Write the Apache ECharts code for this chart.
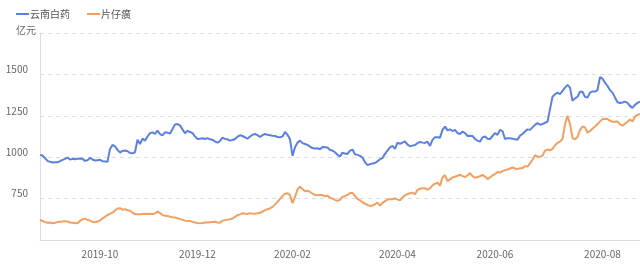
<!DOCTYPE html>
<html><head><meta charset="utf-8">
<script src="https://cdn.jsdelivr.net/npm/echarts@6/dist/echarts.min.js"></script>
<style>html,body{margin:0;padding:0;background:#fff}#c{width:640px;height:272px}</style>
</head><body><div id="c"></div>
<script>
// Series names
const seriesNames = ['云南白药', '片仔癀'];
const yAxisName = '亿元';

// Trading-day calendar (categories)
const startDate = '2019-08-27';
const pointCount = 241;
const holidays = ['2019-09-13','2019-10-01','2019-10-02','2019-10-03','2019-10-04','2019-10-07',
  '2020-01-01','2020-01-24','2020-01-27','2020-01-28','2020-01-29','2020-01-30','2020-01-31',
  '2020-04-06','2020-05-01','2020-05-04','2020-05-05','2020-06-25','2020-06-26'];

// Market value, 亿元
const yunnanBaiyao = [
  1014,1010,995,978,972,968,970,969,976,984,
  990,998,986,990,988,990,992,990,978,982,
  996,986,980,982,984,976,974,972,1050,1074,
  1066,1044,1028,1038,1040,1036,1026,1024,1030,1105,
  1080,1112,1100,1125,1145,1150,1140,1160,1140,1132,
  1150,1148,1142,1170,1198,1200,1192,1168,1145,1160,
  1152,1145,1125,1110,1112,1114,1110,1115,1108,1105,
  1095,1088,1098,1118,1110,1108,1100,1104,1110,1124,
  1132,1128,1120,1112,1125,1135,1140,1133,1122,1133,
  1140,1136,1133,1130,1128,1122,1120,1125,1152,1135,
  1108,1008,1060,1088,1100,1085,1080,1074,1064,1055,
  1052,1054,1048,1062,1060,1058,1044,1040,1030,1014,
  1004,1028,1022,1020,1040,1046,1018,1014,1008,998,
  970,952,958,962,965,975,988,995,1020,1040,
  1060,1068,1050,1088,1080,1088,1095,1076,1066,1070,
  1074,1085,1092,1088,1086,1094,1068,1105,1121,1120,
  1118,1165,1185,1162,1168,1158,1165,1146,1140,1155,
  1145,1128,1130,1128,1110,1100,1094,1120,1125,1112,
  1110,1128,1145,1135,1165,1158,1110,1115,1114,1112,
  1108,1106,1130,1140,1155,1168,1165,1180,1195,1206,
  1196,1200,1208,1215,1290,1365,1380,1390,1380,1400,
  1420,1437,1420,1340,1355,1365,1395,1395,1365,1360,
  1390,1397,1396,1405,1484,1475,1450,1430,1405,1390,
  1360,1332,1327,1330,1336,1328,1310,1298,1316,1328,1335
];
const pianzaihuang = [
  621,615,608,604,606,601,604,608,610,612,
  614,612,606,604,602,601,615,625,629,622,
  617,610,607,612,617,631,640,651,658,665,
  678,690,692,683,686,680,677,665,655,655,
  656,657,658,657,658,657,660,671,662,652,
  646,645,641,638,636,632,626,622,617,614,
  615,610,606,603,601,603,606,605,607,609,
  610,606,604,617,620,623,625,630,640,650,
  655,661,659,657,662,660,659,661,664,672,
  681,686,690,700,715,730,748,765,780,782,
  772,722,760,805,822,808,795,798,790,780,
  772,770,773,770,764,768,756,750,742,736,
  742,760,765,772,784,784,766,748,740,728,
  720,712,706,708,716,726,708,724,735,744,
  746,746,752,744,740,756,770,778,782,786,
  776,802,810,813,813,804,812,830,840,846,
  828,878,892,855,866,878,882,888,895,886,
  880,890,904,886,876,880,885,893,883,868,
  878,890,898,910,907,916,922,926,932,938,
  932,928,933,934,946,943,962,985,1012,1004,
  1002,1010,1040,1046,1042,1050,1072,1086,1094,1110,
  1200,1250,1200,1115,1108,1122,1165,1185,1180,1148,
  1158,1172,1185,1200,1216,1230,1232,1230,1220,1214,
  1214,1215,1198,1190,1202,1214,1228,1216,1246,1256,1262
];

// Y axis ticks
const yMin = 500, yMax = 1750, yInterval = 250;

function tradingDays(start, n, skip) {
  const out = [];
  const d = new Date(start + 'T00:00:00Z');
  const set = new Set(skip);
  while (out.length < n) {
    const s = d.toISOString().slice(0, 10);
    const wd = d.getUTCDay();
    if (wd !== 0 && wd !== 6 && !set.has(s)) out.push(s);
    d.setUTCDate(d.getUTCDate() + 1);
  }
  return out;
}
const dates = tradingDays(startDate, pointCount, holidays);

const chart = echarts.init(document.getElementById('c'), null, {renderer: 'canvas'});
chart.setOption({
  animation: false,
  color: ['#5b80e0', '#f0a062'],
  textStyle: {fontFamily: '"Noto Sans CJK SC", sans-serif'},
  legend: {
    left: 11, top: 4,
    icon: 'rect', itemWidth: 13, itemHeight: 2, itemGap: 17,
    textStyle: {fontSize: 10, color: '#555', padding: [0, 0, 0, -4]},
    data: seriesNames
  },
  grid: {left: 40, right: 0, top: 33, bottom: 32, containLabel: false},
  xAxis: {
    type: 'category',
    data: dates,
    boundaryGap: false,
    axisLine: {lineStyle: {color: '#ddd'}},
    axisTick: {show: false},
    axisLabel: {
      color: '#666', fontSize: 10, margin: 9,
      interval: function (idx, val) {
        if (idx === 0) return false;
        const m = val.slice(5, 7);
        return m !== dates[idx - 1].slice(5, 7) && (+m) % 2 === 0;
      },
      formatter: function (val) { return val.slice(0, 7); }
    },
    splitLine: {show: false}
  },
  yAxis: {
    type: 'value',
    min: yMin, max: yMax, interval: yInterval,
    name: yAxisName,
    nameGap: 3,
    nameTextStyle: {color: '#666', fontSize: 10, align: 'right', verticalAlign: 'middle', padding: [0, 4, 0, 0]},
    axisLine: {show: true, lineStyle: {color: '#ddd'}},
    axisTick: {show: false},
    axisLabel: {
      color: '#666', fontSize: 10, margin: 12, showMinLabel: false, showMaxLabel: false, verticalAlign: 'bottom',
      formatter: function (v) { return String(v); }
    },
    splitLine: {lineStyle: {color: '#ddd', type: [4, 4]}}
  },
  series: [
    {name: seriesNames[0], type: 'line', data: yunnanBaiyao, showSymbol: false, lineStyle: {width: 2}},
    {name: seriesNames[1], type: 'line', data: pianzaihuang, showSymbol: false, lineStyle: {width: 2}}
  ]
});
</script>
</body></html>
